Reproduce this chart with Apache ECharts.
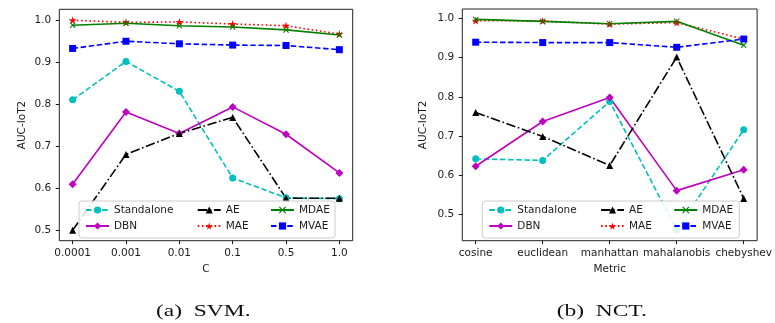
<!DOCTYPE html>
<html>
<head>
<meta charset="utf-8">
<script src="https://cdn.jsdelivr.net/npm/echarts@6/dist/echarts.min.js"></script>
<style>
  html, body { margin: 0; padding: 0; background: #fff; }
  #chart { width: 775px; height: 323px; }
</style>
</head>
<body>
<div id="chart"></div>
<script>
// (a) SVM: x = C
var svmCats = ['0.0001', '0.001', '0.01', '0.1', '0.5', '1.0'];
var svmStandalone = [0.810, 0.901, 0.830, 0.624, 0.577, 0.575];
var svmDBN        = [0.609, 0.781, 0.730, 0.793, 0.728, 0.636];
var svmAE         = [0.500, 0.680, 0.730, 0.768, 0.576, 0.576];
var svmMAE        = [0.999, 0.994, 0.995, 0.990, 0.986, 0.966];
var svmMDAE       = [0.987, 0.992, 0.986, 0.983, 0.976, 0.964];
var svmMVAE       = [0.932, 0.949, 0.943, 0.940, 0.939, 0.929];

// (b) NCT: x = Metric
var nctCats = ['cosine', 'euclidean', 'manhattan', 'mahalanobis', 'chebyshev'];
var nctStandalone = [0.642, 0.638, 0.788, 0.461, 0.716];
var nctDBN        = [0.623, 0.737, 0.798, 0.561, 0.614];
var nctAE         = [0.760, 0.699, 0.625, 0.901, 0.541];
var nctMAE        = [0.994, 0.993, 0.985, 0.989, 0.947];
var nctMDAE       = [0.997, 0.992, 0.986, 0.992, 0.931];
var nctMVAE       = [0.939, 0.938, 0.938, 0.926, 0.947];

var yTicks = [0.5, 0.6, 0.7, 0.8, 0.9, 1.0];
var captions = ['(a)  SVM.', '(b)  NCT.'];

var FONT = 'DejaVu Sans';
var INK = '#1a1a1a';
var starPath = 'path://M50,0L61.2,34.5L97.6,34.5L68.2,55.9L79.4,90.5L50,69.1L20.6,90.5L31.8,55.9L2.4,34.5L38.8,34.5Z';
var xPath = 'path://M0,12L12,0L50,38L88,0L100,12L62,50L100,88L88,100L50,62L12,100L0,88L38,50Z';

// matplotlib-like styles
var styles = {
    Standalone: { color: '#00bfbf', dash: [5.5, 2.6], symbol: 'circle', size: 7 },
    DBN:        { color: '#bf00bf', dash: 'solid', symbol: 'diamond', size: 8 },
    AE:         { color: '#000000', dash: [9.5, 2.6, 1.6, 2.6], symbol: 'triangle', size: 7 },
    MAE:        { color: '#ff0000', dash: [1.6, 2.6], symbol: starPath, size: 8 },
    MDAE:       { color: '#008000', dash: 'solid', symbol: xPath, size: 6 },
    MVAE:       { color: '#0000ff', dash: [5.5, 2.6], symbol: 'rect', size: 7 }
};

function makeSeries(name, values, idx) {
    var s = styles[name];
    return {
        name: name,
        type: 'line',
        xAxisIndex: idx,
        yAxisIndex: idx,
        data: values.map(function (v, i) { return [i, v]; }),
        symbol: s.symbol,
        symbolSize: s.size,
        showAllSymbol: true,
        animation: false,
        lineStyle: { color: s.color, width: 1.6, type: s.dash },
        itemStyle: { color: s.color, borderWidth: 0 },
        emphasis: { disabled: true }
    };
}

function xAxisFor(idx, cats, name, nameGap) {
    var pad = (cats.length - 1) * 0.05;
    var ticks = cats.map(function (c, i) { return i; });
    return {
        type: 'value',
        gridIndex: idx,
        position: 'bottom',
        min: -pad,
        max: cats.length - 1 + pad,
        name: name,
        nameLocation: 'middle',
        nameGap: nameGap,
        nameTextStyle: { fontFamily: FONT, fontSize: 10.5, color: INK },
        splitLine: { show: false },
        axisLine: { show: false, onZero: false },
        axisTick: { show: true, length: 3.5, customValues: ticks, lineStyle: { color: INK, width: 1 } },
        axisLabel: {
            customValues: ticks,
            margin: 7,
            fontFamily: FONT, fontSize: 10.5, color: INK,
            formatter: function (v) { return cats[Math.round(v)]; }
        }
    };
}

function yAxisFor(idx, lo, hi, nameGap) {
    return {
        type: 'value',
        gridIndex: idx,
        position: 'left',
        min: lo,
        max: hi,
        name: 'AUC-IoT2',
        nameLocation: 'middle',
        nameGap: nameGap,
        nameRotate: 90,
        nameTextStyle: { fontFamily: FONT, fontSize: 10.5, color: INK },
        splitLine: { show: false },
        axisLine: { show: false, onZero: false },
        axisTick: { show: true, length: 3.5, customValues: yTicks, lineStyle: { color: INK, width: 1 } },
        axisLabel: {
            customValues: yTicks,
            margin: 8,
            fontFamily: FONT, fontSize: 10.5, color: INK,
            formatter: function (v) { return v.toFixed(1); }
        }
    };
}

function legendCol(names, left) {
    return {
        data: names,
        orient: 'vertical',
        left: left,
        top: 202,
        padding: 0,
        itemGap: 0,
        itemWidth: 23,
        itemHeight: 9,
        z: 60,
        selectedMode: false,
        textStyle: { fontFamily: FONT, fontSize: 10.5, color: INK, lineHeight: 16 }
    };
}

function legendBox(x, w) {
    return {
        type: 'rect',
        z: 50,
        shape: { x: x, y: 201, width: w, height: 37, r: 3 },
        style: { fill: 'rgba(255,255,255,0.85)', stroke: '#cccccc', lineWidth: 1 }
    };
}

function caption(text, x) {
    return {
        type: 'text',
        x: x, y: 311.5,
        scaleX: 1.38,
        style: {
            text: text,
            font: '17px "Liberation Serif"',
            fill: '#111',
            align: 'center',
            verticalAlign: 'middle'
        }
    };
}

var chart = echarts.init(document.getElementById('chart'), null, { renderer: 'canvas' });
chart.setOption({
    backgroundColor: '#ffffff',
    animation: false,
    grid: [
        { left: 59.3, top: 9.3, width: 293.4, height: 231.4, show: true, borderColor: '#222', borderWidth: 1, backgroundColor: 'transparent' },
        { left: 462.3, top: 9, width: 298.4, height: 231.7, show: true, borderColor: '#222', borderWidth: 1, backgroundColor: 'transparent' }
    ],
    xAxis: [
        xAxisFor(0, svmCats, 'C', 20),
        xAxisFor(1, nctCats, 'Metric', 20)
    ],
    yAxis: [
        yAxisFor(0, 0.475, 1.025, 32),
        yAxisFor(1, 0.4335, 1.0235, 34)
    ],
    legend: [
        legendCol(['Standalone', 'DBN'], 85),
        legendCol(['AE', 'MAE'], 196.7),
        legendCol(['MDAE', 'MVAE'], 270),
        legendCol(['Standalone', 'DBN'], 488.3),
        legendCol(['AE', 'MAE'], 600),
        legendCol(['MDAE', 'MVAE'], 673.3)
    ],
    graphic: [
        legendBox(79, 256),
        legendBox(482.3, 257),
        caption(captions[0], 203.3),
        caption(captions[1], 601.7)
    ],
    series: [
        makeSeries('Standalone', svmStandalone, 0),
        makeSeries('DBN', svmDBN, 0),
        makeSeries('AE', svmAE, 0),
        makeSeries('MAE', svmMAE, 0),
        makeSeries('MDAE', svmMDAE, 0),
        makeSeries('MVAE', svmMVAE, 0),
        makeSeries('Standalone', nctStandalone, 1),
        makeSeries('DBN', nctDBN, 1),
        makeSeries('AE', nctAE, 1),
        makeSeries('MAE', nctMAE, 1),
        makeSeries('MDAE', nctMDAE, 1),
        makeSeries('MVAE', nctMVAE, 1)
    ]
});
</script>
</body>
</html>
